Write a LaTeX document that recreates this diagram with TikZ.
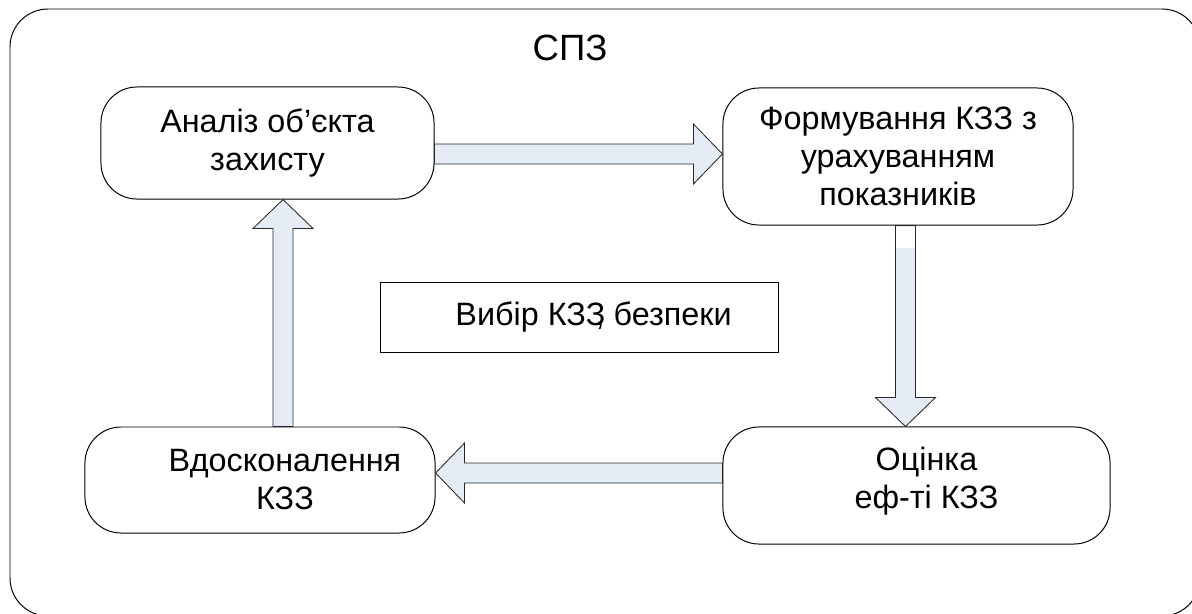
\documentclass[tikz,border=0pt]{standalone}
\usepackage{fontspec}
\setmainfont{Liberation Sans}
\usetikzlibrary{calc}

\definecolor{strilkafill}{RGB}{230,236,246}
\tikzset{
	blok/.style={draw, rounded corners=9mm, align=center, line width=0.7pt},
	strilka/.style={draw=black!85, fill=strilkafill, line width=0.6pt, line join=miter},
}

\begin{document}
\begin{tikzpicture}[x=0.025cm, y=-0.025cm, font=\fontsize{23}{27}\selectfont]
\useasboundingbox (0,0) rectangle (1192,613);
\begin{scope}
\clip (0,0) rectangle (1192,613);
\draw[line width=0.7pt, rounded corners=9.5mm] (10,9) rectangle (1200,616);
\end{scope}
\node[font=\fontsize{26}{30}\selectfont] (spz) at (570,48) {СПЗ};
% blocks
\node[blok, minimum width=83.25mm, minimum height=28mm] (analiz) at (267.5,143) {Аналіз об’єкта\\захисту};
\node[blok, minimum width=87.5mm, minimum height=34.25mm] (formuv) at (898,156.5) {Формування КЗЗ з\\урахуванням\\показників};
\node[blok, minimum width=96.75mm, minimum height=29.25mm,
	label={[align=center, xshift=2.5mm, yshift=1mm]center:{Оцінка\\еф-ті КЗЗ}}] (otsinka) at (916.5,485.5) {};
\node[blok, minimum width=87.5mm, minimum height=26.5mm,
	label={[align=center, xshift=6.25mm]center:{Вдосконалення\\КЗЗ}}] (vdosk) at (260,480) {};
\node[draw, line width=0.7pt, minimum width=99.25mm, minimum height=17.5mm,
	label={[xshift=3.5mm]center:Вибір КЗЗ\kern-0.3em, безпеки}] (vybir) at (579.5,317) {};
% arrows
\coordinate (r0) at (analiz.east |- 0,154);
\coordinate (r1) at (formuv.west |- 0,154);
\coordinate (d0) at (905.5,0 |- formuv.south);
\coordinate (d1) at (905.5,0 |- otsinka.north);
\coordinate (l0) at (otsinka.west |- 0,473);
\coordinate (l1) at (vdosk.east |- 0,473);
\coordinate (u0) at (283,0 |- vdosk.north);
\coordinate (u1) at (283,0 |- analiz.south);
\foreach \t/\p in {r0/r1, d0/d1, l0/l1, u0/u1} {
	\coordinate (hb) at ($(\p)!7.25mm!(\t)$);
	\draw[strilka] ($(\t)!2.5mm!90:(\p)$) -- ($(hb)!2.5mm!90:(\p)$) -- ($(hb)!7.5mm!90:(\p)$) -- (\p)
		-- ($(hb)!7.5mm!-90:(\p)$) -- ($(hb)!2.5mm!-90:(\p)$) -- ($(\t)!2.5mm!-90:(\p)$) -- cycle;
}
\fill[white] ($(d0)+(-9.6,1)$) rectangle ($(d0)+(9.6,22)$);
\end{tikzpicture}
\end{document}
